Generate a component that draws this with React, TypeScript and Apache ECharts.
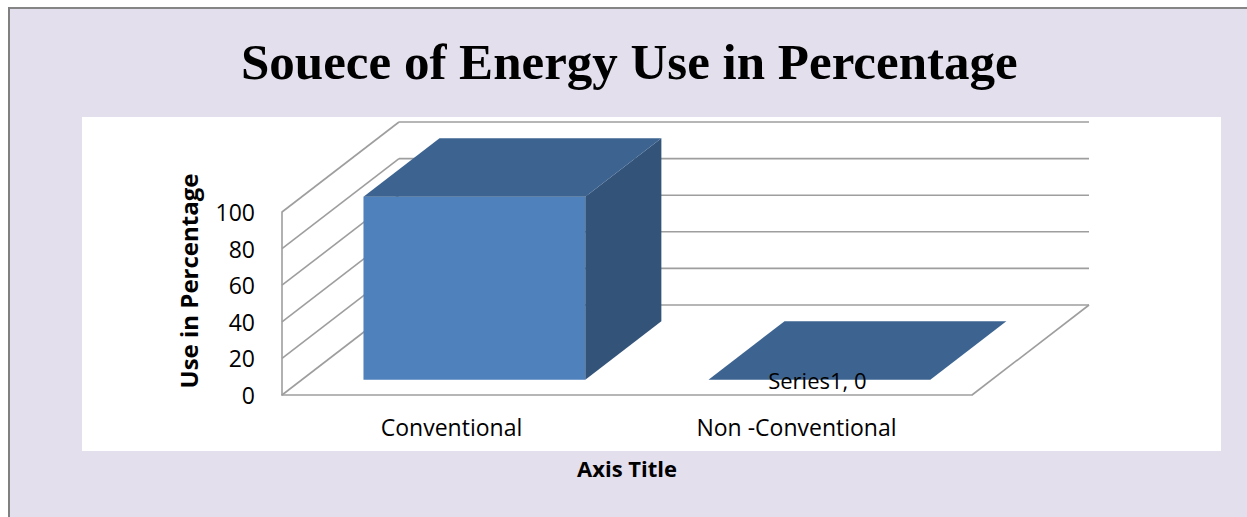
import React, { useEffect, useRef } from "react";
import * as echarts from "echarts";

// ---- data ----
const categories = ["Conventional", "Non -Conventional"];
const values = [100, 0];
const seriesName = "Series1";
const showDataLabel = [false, true];
const yTicks = [0, 20, 40, 60, 80, 100];
const chartTitle = "Souece of Energy Use in Percentage";
const xAxisTitle = "Axis Title";
const yAxisTitle = "Use in Percentage";

// ---- 3D projection constants (visual only) ----
const DX = 117;
const DY = -90;
const BAR_FRONT = 0.17;
const BAR_DEPTH = 0.65;
const BAR_WIDTH = 0.643;

const FONT = "'Open Sans', sans-serif";
const WALL = "#9E9E9E";

export default function App() {
  const ref = useRef<HTMLDivElement>(null);

  useEffect(() => {
    if (!ref.current) return;
    const chart = echarts.init(ref.current, null, { renderer: "svg" });

    const wallSeries: any = {
      type: "custom",
      z: 1,
      silent: true,
      data: [[0, 0]],
      renderItem: (params: any, api: any) => {
        const cs = params.coordSys;
        const x0 = cs.x;
        const x1 = cs.x + cs.width;
        const style = { stroke: WALL, lineWidth: 1.6, fill: null };
        const children: any[] = [];
        yTicks.forEach((v) => {
          const y = api.coord([0, v])[1];
          children.push({ type: "line", shape: { x1: x0, y1: y, x2: x0 + DX, y2: y + DY }, style });
          children.push({ type: "line", shape: { x1: x0 + DX, y1: y + DY, x2: x1 + DX, y2: y + DY }, style });
        });
        const y0 = api.coord([0, 0])[1];
        children.push({ type: "line", shape: { x1: x1, y1: y0, x2: x1 + DX, y2: y0 + DY }, style });
        return { type: "group", children };
      },
    };

    const barSeries: any = {
      type: "custom",
      name: seriesName,
      z: 3,
      data: categories.map((_, i) => [i, values[i]]),
      renderItem: (params: any, api: any) => {
        const idx = api.value(0);
        const val = api.value(1);
        const base = api.coord([idx, 0]);
        const top = api.coord([idx, val]);
        const band = api.size([1, 0])[0];
        const w = band * BAR_WIDTH;
        const fx = BAR_FRONT * DX;
        const fy = BAR_FRONT * DY;
        const bx = BAR_DEPTH * DX;
        const by = BAR_DEPTH * DY;
        const L = base[0] - w / 2 + fx;
        const R = base[0] + w / 2 + fx;
        const B = base[1] + fy;
        const T = top[1] + fy;
        const children: any[] = [
          {
            type: "polygon",
            shape: { points: [[L, T], [R, T], [R, B], [L, B]] },
            style: { fill: "#4F81BD" },
          },
          {
            type: "polygon",
            shape: { points: [[R, T], [R + bx, T + by], [R + bx, B + by], [R, B]] },
            style: { fill: "#335379" },
          },
          {
            type: "polygon",
            shape: { points: [[L, T], [L + bx, T + by], [R + bx, T + by], [R, T]] },
            style: { fill: "#3D6490" },
          },
        ];
        if (showDataLabel[idx]) {
          children.push({
            type: "text",
            x: (L + R) / 2 - 2,
            y: B,
            style: {
              text: `${seriesName}, ${val}`,
              fill: "#000",
              font: `22px ${FONT}`,
              align: "center",
              verticalAlign: "middle",
            },
          });
        }
        return { type: "group", children };
      },
    };

    chart.setOption({
      animation: false,
      backgroundColor: "#ffffff",
      title: {
        text: chartTitle,
        left: 236,
        top: 31,
        textStyle: {
          fontFamily: "'Liberation Serif', serif",
          fontWeight: "bold",
          fontSize: 51,
          color: "#000",
        },
      },
      graphic: [
        {
          type: "rect",
          z: -10,
          silent: true,
          shape: { x: 8, y: 7, width: 1260, height: 520 },
          style: { fill: "#E4DFEC" },
        },
        {
          type: "line",
          z: -9,
          silent: true,
          shape: { x1: 8, y1: 8, x2: 1247, y2: 8 },
          style: { stroke: "#858585", lineWidth: 2 },
        },
        {
          type: "line",
          z: -9,
          silent: true,
          shape: { x1: 9, y1: 7, x2: 9, y2: 517 },
          style: { stroke: "#808080", lineWidth: 2 },
        },
        {
          type: "rect",
          z: -8,
          silent: true,
          shape: { x: 82, y: 117, width: 1139, height: 334 },
          style: { fill: "#ffffff" },
        },
        {
          type: "text",
          x: 188,
          y: 281,
          rotation: Math.PI / 2,
          style: {
            text: yAxisTitle,
            fill: "#000",
            font: `bold 24px ${FONT}`,
            align: "center",
            verticalAlign: "middle",
          },
        },
      ],
      grid: { left: 282, right: 275, top: 212, bottom: 122 },
      xAxis: {
        type: "category",
        data: categories,
        axisLine: { show: true, lineStyle: { color: WALL, width: 1.6 } },
        axisTick: { show: false },
        axisLabel: {
          margin: 20,
          fontSize: 23,
          color: "#000",
          fontFamily: FONT,
          padding: [0, 6, 0, 0],
        },
        name: xAxisTitle,
        nameLocation: "middle",
        nameGap: 62,
        nameTextStyle: { fontSize: 22, fontWeight: "bold", color: "#000", fontFamily: FONT },
        splitLine: { show: false },
      },
      yAxis: {
        type: "value",
        min: 0,
        max: 100,
        interval: 20,
        axisLine: { show: true, lineStyle: { color: WALL, width: 1.6 } },
        axisTick: { show: false },
        splitLine: { show: false },
        axisLabel: { margin: 27, fontSize: 23, color: "#000", fontFamily: FONT },
      },
      series: [wallSeries, barSeries],
    });

    return () => chart.dispose();
  }, []);

  return (
    <div
      ref={ref}
      style={{ position: "absolute", left: 0, top: 0, width: 1247, height: 517 }}
    />
  );
}
